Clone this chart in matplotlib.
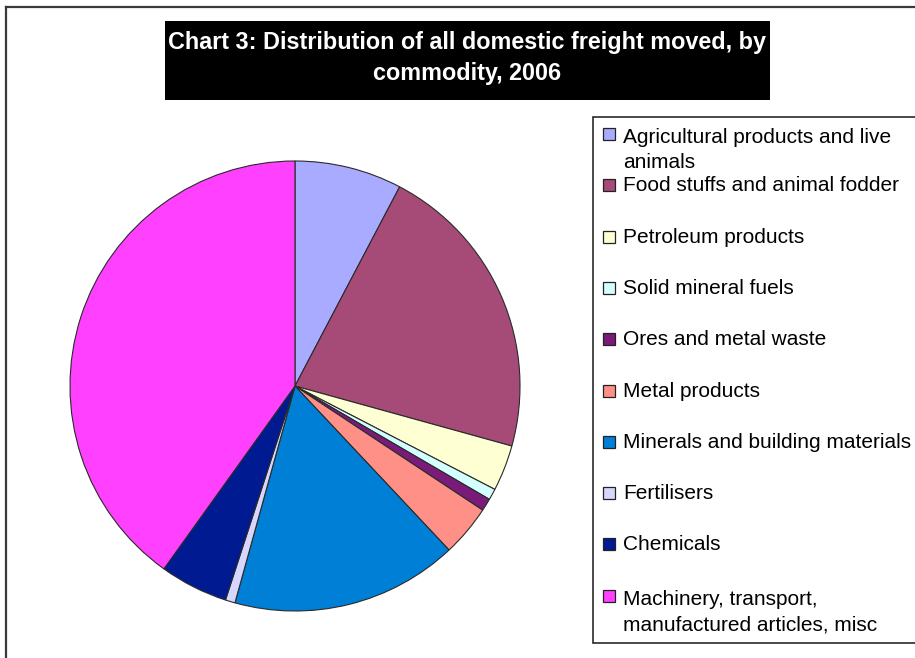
import matplotlib
matplotlib.use("Agg")
import matplotlib.pyplot as plt
from matplotlib.patches import Rectangle
from matplotlib.lines import Line2D

plt.rcParams['font.family'] = ['Liberation Sans', 'DejaVu Sans']

# ---- data ----
title = "Chart 3: Distribution of all domestic freight moved, by\ncommodity, 2006"
categories = [
    "Agricultural products and live\nanimals",
    "Food stuffs and animal fodder",
    "Petroleum products",
    "Solid mineral fuels",
    "Ores and metal waste",
    "Metal products",
    "Minerals and building materials",
    "Fertilisers",
    "Chemicals",
    "Machinery, transport,\nmanufactured articles, misc",
]
values = [7.7, 21.6, 3.3, 0.8, 0.9, 3.7, 16.3, 0.7, 4.9, 40.1]
colors = ["#A8ABFF", "#A64B78", "#FFFFD4", "#D4FFFF", "#7A1B7A",
          "#FF9088", "#007FD6", "#D6D6FF", "#001A92", "#FF40FF"]

W, H = 915, 658
fig = plt.figure(figsize=(W / 100, H / 100), dpi=100)
fig.patch.set_facecolor("white")

def fx(x):
    return x / W

def fy(y):
    return 1 - y / H

# outer frame (clipped at right / bottom)
fig.add_artist(Line2D([fx(6), fx(W + 5)], [fy(7), fy(7)], color="#3a3a3a", lw=1.6))
fig.add_artist(Line2D([fx(6), fx(6)], [fy(7), fy(H + 5)], color="#3a3a3a", lw=1.6))

# title box
fig.add_artist(Rectangle((fx(165), fy(100)), fx(770) - fx(165), fy(21) - fy(100),
                         transform=fig.transFigure, facecolor="black", edgecolor="none"))
fig.text(fx(467), fy(58), title, color="white", fontsize=16.8, fontweight="bold",
         ha="center", va="center", linespacing=1.42, multialignment="center")

# pie
cx, cy, r = 295, 386, 225
ax = fig.add_axes([fx(cx - r), fy(cy + r), (2 * r) / W, (2 * r) / H])
ax.pie(values, colors=colors, startangle=90, counterclock=False, radius=1,
       wedgeprops=dict(edgecolor="#2a2a2a", linewidth=0.8))
ax.set_xlim(-1.0, 1.0)
ax.set_ylim(-1.0, 1.0)
ax.set_axis_off()

# legend box
fig.add_artist(Rectangle((fx(593), fy(643)), fx(W + 20) - fx(593), fy(117) - fy(643),
                         transform=fig.transFigure, facecolor="white",
                         edgecolor="#2a2a2a", lw=1.2))
base0 = 140
step = 51.3
line_h = 28.5
for i, (lab, col) in enumerate(zip(categories, colors)):
    yb = base0 + step * i
    nlines = lab.count("\n") + 1
    fig.add_artist(Rectangle((fx(603), fy(yb)), fx(615) - fx(603), fy(yb - 12) - fy(yb),
                             transform=fig.transFigure, facecolor=col,
                             edgecolor="#222222", lw=0.9))
    fig.text(fx(623), fy(yb + line_h * (nlines - 1)), lab, fontsize=15, color="black",
             ha="left", va="baseline", linespacing=1.44)

fig.savefig("out.png", dpi=100, facecolor="white")
